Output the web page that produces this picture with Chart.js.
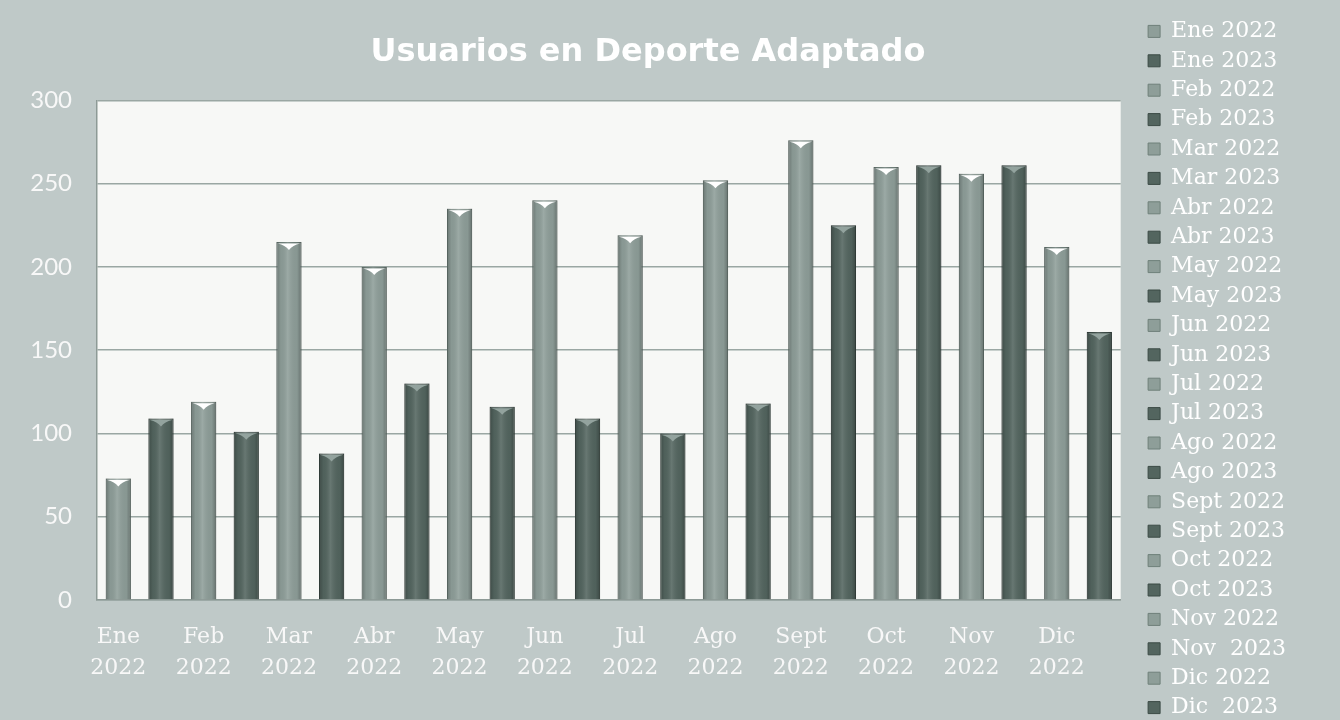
<!DOCTYPE html>
<html lang="es">
<head>
<meta charset="utf-8">
<title>Usuarios en Deporte Adaptado</title>
<script src="https://cdn.jsdelivr.net/npm/chart.js@4.4.1/dist/chart.umd.min.js"></script>
<style>
  html, body { margin: 0; padding: 0; background: #bfc9c8; }
  #wrap { width: 1340px; height: 720px; position: relative; overflow: hidden; }
</style>
</head>
<body>
<div id="wrap"><canvas id="chart"></canvas></div>
<script>
// ===== data =====
const months = ['Ene', 'Feb', 'Mar', 'Abr', 'May', 'Jun', 'Jul', 'Ago', 'Sept', 'Oct', 'Nov', 'Dic'];
const legend2022 = ['Ene 2022', 'Feb 2022', 'Mar 2022', 'Abr 2022', 'May 2022', 'Jun 2022',
  'Jul 2022', 'Ago 2022', 'Sept 2022', 'Oct 2022', 'Nov 2022', 'Dic 2022'];
const legend2023 = ['Ene 2023', 'Feb 2023', 'Mar 2023', 'Abr 2023', 'May 2023', 'Jun 2023',
  'Jul 2023', 'Ago 2023', 'Sept 2023', 'Oct 2023', 'Nov  2023', 'Dic  2023'];
const users2022 = [73, 119, 215, 200, 235, 240, 219, 252, 276, 260, 256, 212];
const users2023 = [109, 101, 88, 130, 116, 109, 100, 118, 225, 261, 261, 161];
const xTickYear = '2022';
const yMin = 0, yMax = 300, yStep = 50;

// 24 slots on the x axis: one per bar, label only under the 2022 bar
const slots = [];
months.forEach(m => { slots.push([m, xTickYear]); slots.push(''); });

const lightFill = '#8e9e99', lightEdge = '#6f807a';
const darkFill = '#53655f', darkEdge = '#3b4a45';

const datasets = [];
months.forEach((m, i) => {
  const a = new Array(slots.length).fill(null);
  a[2 * i] = users2022[i];
  datasets.push({ label: legend2022[i], data: a, backgroundColor: lightFill, borderColor: lightEdge });
  const b = new Array(slots.length).fill(null);
  b[2 * i + 1] = users2023[i];
  datasets.push({ label: legend2023[i], data: b, backgroundColor: darkFill, borderColor: darkEdge });
});

// white plot area
const plotBg = {
  id: 'plotBg',
  beforeDraw(chart) {
    const { ctx, chartArea: a } = chart;
    ctx.save();
    ctx.fillStyle = '#f7f8f6';
    ctx.fillRect(a.left, a.top, a.right - a.left, a.bottom - a.top);
    ctx.restore();
  }
};

// bevel shading + notch on the top of each bar
const barShade = {
  id: 'barShade',
  afterDatasetsDraw(chart) {
    const ctx = chart.ctx;
    ctx.save();
    chart.data.datasets.forEach((ds, di) => {
      const meta = chart.getDatasetMeta(di);
      if (meta.hidden) return;
      meta.data.forEach((bar, i) => {
        if (ds.data[i] == null) return;
        const { x, y, base, width } = bar.getProps(['x', 'y', 'base', 'width'], true);
        const l = x - width / 2, r = x + width / 2;
        const g = ctx.createLinearGradient(l, 0, r, 0);
        g.addColorStop(0, 'rgba(0,0,0,0.25)');
        g.addColorStop(0.18, 'rgba(0,0,0,0.04)');
        g.addColorStop(0.45, 'rgba(255,255,255,0.12)');
        g.addColorStop(0.82, 'rgba(0,0,0,0.04)');
        g.addColorStop(1, 'rgba(0,0,0,0.28)');
        ctx.fillStyle = g;
        ctx.fillRect(l, y, width, base - y);
        ctx.beginPath();
        ctx.moveTo(l + 1.5, y + 1.5);
        ctx.lineTo(r - 1.5, y + 1.5);
        ctx.quadraticCurveTo(x + width * 0.15, y + 3, x, y + 8);
        ctx.quadraticCurveTo(x - width * 0.15, y + 3, l + 1.5, y + 1.5);
        ctx.closePath();
        ctx.fillStyle = di % 2 === 0 ? '#ffffff' : '#93a39e';
        ctx.fill();
      });
    });
    ctx.restore();
  }
};

new Chart(document.getElementById('chart'), {
  type: 'bar',
  data: { labels: slots, datasets: datasets },
  plugins: [plotBg, barShade],
  options: {
    responsive: true,
    maintainAspectRatio: false,
    animation: false,
    skipNull: true,
    categoryPercentage: 1,
    barPercentage: 0.59,
    borderWidth: 1,
    layout: { padding: { top: 6, right: 44, bottom: -6, left: 0 } },
    scales: {
      x: {
        grid: { display: false, drawTicks: false },
        border: { color: '#8d9a96', width: 1.5 },
        ticks: {
          autoSkip: false, maxRotation: 0, padding: 22,
          color: '#f8f8f8',
          font: { family: 'DejaVu Serif', size: 22, lineHeight: 1.4 }
        },
        afterFit(scale) { scale.height = 126; }
      },
      y: {
        min: yMin, max: yMax,
        grid: { color: '#9aa7a3', lineWidth: 1.5, drawTicks: false },
        border: { color: '#8d9a96', width: 1.5 },
        ticks: {
          stepSize: yStep, padding: 25,
          color: '#f8f8f8',
          font: { family: 'Lato', size: 24 }
        },
        afterFit(scale) { scale.width = 97; }
      },
      gap: {
        position: 'right',
        grid: { display: false, drawTicks: false },
        border: { display: false },
        ticks: { display: false },
        afterFit(scale) { scale.width = 20; }
      }
    },
    plugins: {
      title: {
        display: true,
        text: 'Usuarios en Deporte Adaptado',
        fullSize: true,
        color: '#ffffff',
        font: { family: 'DejaVu Sans', size: 32, weight: 'bold', lineHeight: 1.2 },
        padding: { top: 27, bottom: 29 }
      },
      legend: {
        position: 'right',
        align: 'end',
        labels: {
          color: '#ffffff',
          boxWidth: 12,
          boxHeight: 12,
          padding: 7.4,
          font: { family: 'DejaVu Serif', size: 22 }
        }
      },
      tooltip: { enabled: false }
    }
  }
});
</script>
</body>
</html>
